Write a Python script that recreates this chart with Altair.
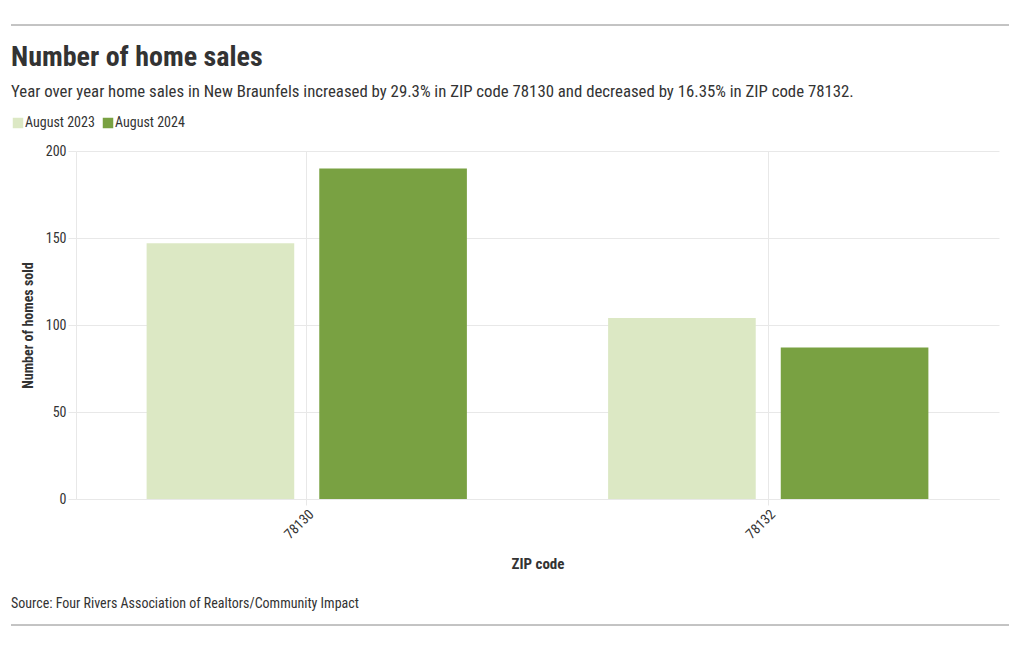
import altair as alt
import pandas as pd

zips = ["78130", "78130", "78132", "78132"]
periods = ["August 2023", "August 2024", "August 2023", "August 2024"]
sales = [147, 190, 104, 87]

title_text = "Number of home sales"
subtitle_text = ("Year over year home sales in New Braunfels increased by 29.3% in ZIP code 78130 "
                 "and decreased by 16.35% in ZIP code 78132.")
source_text = "Source: Four Rivers Association of Realtors/Community Impact"

df = pd.DataFrame({"zip": zips, "period": periods, "sales": sales})

FONT = "Roboto Condensed, Liberation Sans Narrow, Roboto, sans-serif"
TXT = "#333333"
GRID = "#e8e8e8"

bars = alt.Chart(df).mark_bar().encode(
    x=alt.X("zip:N", title="ZIP code",
            scale=alt.Scale(paddingInner=0.306, paddingOuter=0.153),
            axis=alt.Axis(labelAngle=-45, grid=True, gridColor=GRID,
                          domainColor=GRID, tickColor=GRID, tickSize=6,
                          labelFontSize=14, labelColor=TXT, labelFont=FONT,
                          titleFont=FONT, titleFontSize=15, titleColor=TXT,
                          titleFontWeight="bold", titlePadding=15)),
    xOffset=alt.XOffset("period:N", scale=alt.Scale(paddingInner=0.145, paddingOuter=0)),
    y=alt.Y("sales:Q", title="Number of homes sold",
            scale=alt.Scale(domain=[0, 200]),
            axis=alt.Axis(values=[0, 50, 100, 150, 200], grid=True, gridColor=GRID,
                          domain=True, domainColor=GRID, tickColor=GRID, tickSize=8,
                          labelPadding=2,
                          labelFontSize=14, labelColor=TXT, labelFont=FONT,
                          titleFont=FONT, titleFontSize=14, titleColor=TXT,
                          titleFontWeight="bold", titlePadding=10)),
    color=alt.Color("period:N", title=None,
                    scale=alt.Scale(domain=["August 2023", "August 2024"],
                                    range=["#dce8c4", "#79a142"]),
                    legend=alt.Legend(orient="none", legendX=-65, legendY=-35,
                                      direction="horizontal", symbolType="square",
                                      symbolSize=110, symbolStrokeWidth=0,
                                      labelFontSize=14, labelColor=TXT, labelFont=FONT,
                                      columnPadding=6, labelOffset=0)),
)

deco = pd.DataFrame({"a": [0]})
top_rule = alt.Chart(deco).mark_rule(color="#888888", strokeWidth=1).encode(
    x=alt.value(-65), x2=alt.value(933), y=alt.value(-126))
bottom_rule = alt.Chart(deco).mark_rule(color="#888888", strokeWidth=1).encode(
    x=alt.value(-65), x2=alt.value(933), y=alt.value(474))
title = alt.Chart(deco).mark_text(align="left", baseline="alphabetic", fontSize=28,
                                  fontWeight="bold", font=FONT, color=TXT).encode(
    x=alt.value(-65), y=alt.value(-85), text=alt.value(title_text))
subtitle = alt.Chart(deco).mark_text(align="left", baseline="alphabetic", fontSize=16.8,
                                     font=FONT, color=TXT).encode(
    x=alt.value(-65), y=alt.value(-54), text=alt.value(subtitle_text))
source = alt.Chart(deco).mark_text(align="left", baseline="alphabetic", fontSize=14,
                                   font=FONT, color=TXT).encode(
    x=alt.value(-65), y=alt.value(457), text=alt.value(source_text))

chart = alt.layer(bars, top_rule, bottom_rule, title, subtitle, source).properties(
    width=923, height=348,
    autosize=alt.AutoSizeParams(type="none"),
    padding={"left": 68, "top": 143, "right": 10, "bottom": 130},
).configure_view(stroke=None)

chart.save("out.html", embed_options={"renderer": "svg", "actions": False})
